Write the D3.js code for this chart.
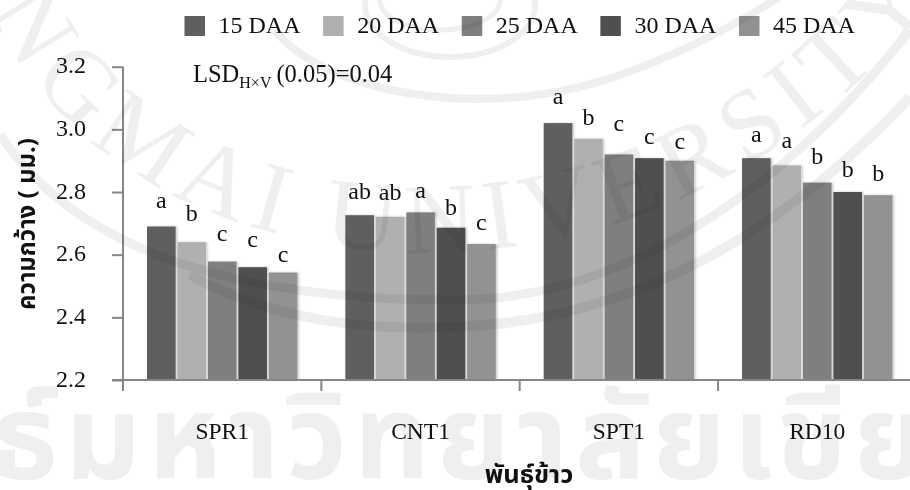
<!DOCTYPE html>
<html><head><meta charset="utf-8">
<script src="https://cdnjs.cloudflare.com/ajax/libs/d3/7.8.5/d3.min.js"></script>
<style>
html,body{margin:0;padding:0;background:#fff}
svg{display:block}
text{font-family:"Liberation Serif","Times New Roman",serif;fill:#111}
.thai{font-family:"Noto Sans Thai","Noto Serif Thai","Noto Sans","DejaVu Sans",sans-serif;font-weight:700}
</style></head><body>
<svg id="c" width="910" height="490"></svg>
<script>
const varieties = ["SPR1","CNT1","SPT1","RD10"];
const stages = ["15 DAA","20 DAA","25 DAA","30 DAA","45 DAA"];
const stageColors = ["#5f5f5f","#b0b0b0","#7f7f7f","#4f4f4f","#929292"];
const spr1 = [2.69,2.64,2.578,2.56,2.543];
const cnt1 = [2.726,2.721,2.735,2.686,2.634];
const spt1 = [3.02,2.97,2.92,2.908,2.90];
const rd10 = [2.908,2.885,2.83,2.80,2.79];
const seriesByVariety = [spr1,cnt1,spt1,rd10];
const lettersByVariety = [["a","b","c","c","c"],["ab","ab","a","b","c"],["a","b","c","c","c"],["a","a","b","b","b"]];
const letterLift = [[18.7,21,20.7,20,10.7],[16.3,16.7,14.3,12.7,14],[19.3,14,23,14.3,12],[16.3,17.7,18.7,14.7,14]];
const yTicks = [2.2,2.4,2.6,2.8,3.0,3.2];

const svg = d3.select("#c");
const defs = svg.append("defs");
const f = defs.append("filter").attr("id","sh").attr("x","-10%").attr("y","-5%").attr("width","125%").attr("height","110%");
f.append("feDropShadow").attr("dx",1.5).attr("dy",0).attr("stdDeviation",1.2).attr("flood-color","#000").attr("flood-opacity",0.22);

const y = d3.scaleLinear().domain([2.2,3.2]).range([380,66.7]);
const x0 = d3.scaleBand().domain(varieties).range([123,916.4]);
const x1 = d3.scaleBand().domain(stages).range([24,174.4]).paddingInner(0.06);

// chart
const g = svg.append("g");
varieties.forEach((v,i)=>{
  const gg = g.append("g").attr("transform",`translate(${x0(v)},0)`);
  gg.selectAll("rect").data(seriesByVariety[i]).join("rect")
    .attr("x",(d,j)=>x1(stages[j])).attr("width",x1.bandwidth())
    .attr("y",d=>y(d)).attr("height",d=>y.range()[0]-y(d))
    .attr("fill",(d,j)=>stageColors[j]).attr("filter","url(#sh)");
  gg.selectAll("text").data(seriesByVariety[i]).join("text")
    .attr("x",(d,j)=>x1(stages[j])+x1.bandwidth()/2)
    .attr("y",(d,j)=>y(d)-letterLift[i][j])
    .attr("text-anchor","middle").attr("font-size",24)
    .text((d,j)=>lettersByVariety[i][j]);
});

// axes
const axisColor="#868686";
const ay = svg.append("g").attr("transform","translate(123,0)")
  .call(d3.axisLeft(y).tickValues(yTicks).tickFormat(d3.format(".1f")).tickSize(11).tickPadding(8));
ay.selectAll("path,line").attr("stroke",axisColor).attr("stroke-width",2);
ay.select("path").attr("d","M0,66.7V380");
ay.selectAll("text").attr("font-size",24).attr("font-family","Liberation Serif").attr("fill","#111").attr("dy","0.25em").attr("x",-37);

const ax = svg.append("g").attr("transform","translate(0,380)")
  .call(d3.axisBottom(x0).tickSize(0).tickPadding(42));
ax.select("path").attr("stroke",axisColor).attr("stroke-width",2).attr("d","M112,0H910");
ax.selectAll("text").attr("font-size",23.5).attr("font-family","Liberation Serif").attr("fill","#111");
ax.selectAll(".sep").data(d3.range(varieties.length)).join("line").attr("class","sep")
  .attr("x1",i=>x0(varieties[i])).attr("x2",i=>x0(varieties[i]))
  .attr("y1",0).attr("y2",11).attr("stroke",axisColor).attr("stroke-width",2);

// legend
const lx = d3.scalePoint().domain(stages).range([184.5,739]);
const lg = svg.append("g").selectAll("g").data(stages).join("g").attr("transform",d=>`translate(${lx(d)},16)`);
lg.append("rect").attr("width",20.5).attr("height",20).attr("fill",(d,i)=>stageColors[i]);
lg.append("text").attr("x",34).attr("y",17).attr("font-size",24).text(d=>d);

// annotation
const lsd = svg.append("text").attr("x",193).attr("y",81.5).attr("font-size",24.5);
lsd.append("tspan").text("LSD");
lsd.append("tspan").attr("font-size",16).attr("dy",6.5).text("H×V");
lsd.append("tspan").attr("dy",-6.5).attr("dx",5).attr("font-size",24.5).text("(0.05)=0.04");

// axis titles
svg.append("text").attr("class","thai").attr("transform","translate(35,224) rotate(-90)")
  .attr("text-anchor","middle").attr("font-size",24).text("ความกว้าง ( มม.)");
svg.append("text").attr("class","thai").attr("x",529).attr("y",483)
  .attr("text-anchor","middle").attr("font-size",25.5).text("พันธุ์ข้าว");

// watermark, laid over everything and multiplied so that it darkens the bars too
const wm = svg.append("g").style("mix-blend-mode","multiply");
const wmColor="#efefef";
defs.append("path").attr("id","wmArc").attr("d","M-20,-10 C120,330 700,360 960,-40");
wm.append("text").attr("font-size",100).style("fill",wmColor).attr("letter-spacing",10)
  .append("textPath").attr("href","#wmArc").attr("startOffset",22).text("NGMAI UNIVERSITY");
wm.append("path").attr("fill","none").attr("stroke",wmColor).attr("stroke-width",9)
  .attr("d","M0,135 C90,270 280,300 455,300 C640,300 800,170 910,30");
wm.append("path").attr("fill","none").attr("stroke",wmColor).attr("stroke-width",10)
  .attr("d","M190,275 C280,325 380,330 455,327 C650,320 800,215 910,97");
wm.append("path").attr("fill","none").attr("stroke",wmColor).attr("stroke-width",8)
  .attr("d","M275,30 C320,90 480,125 620,75 C690,50 745,20 790,-10");
wm.append("ellipse").attr("cx",450).attr("cy",5).attr("rx",85).attr("ry",52).attr("fill","none").attr("stroke",wmColor).attr("stroke-width",6);
wm.append("ellipse").attr("cx",440).attr("cy",0).attr("rx",60).attr("ry",30).attr("fill","none").attr("stroke",wmColor).attr("stroke-width",5);
wm.append("text").attr("class","thai").attr("x",-8).attr("y",478).attr("font-size",118)
  .attr("textLength",935).style("fill",wmColor).text("ธ์มหาวิทยาลัยเชีย");
</script>
</body></html>
